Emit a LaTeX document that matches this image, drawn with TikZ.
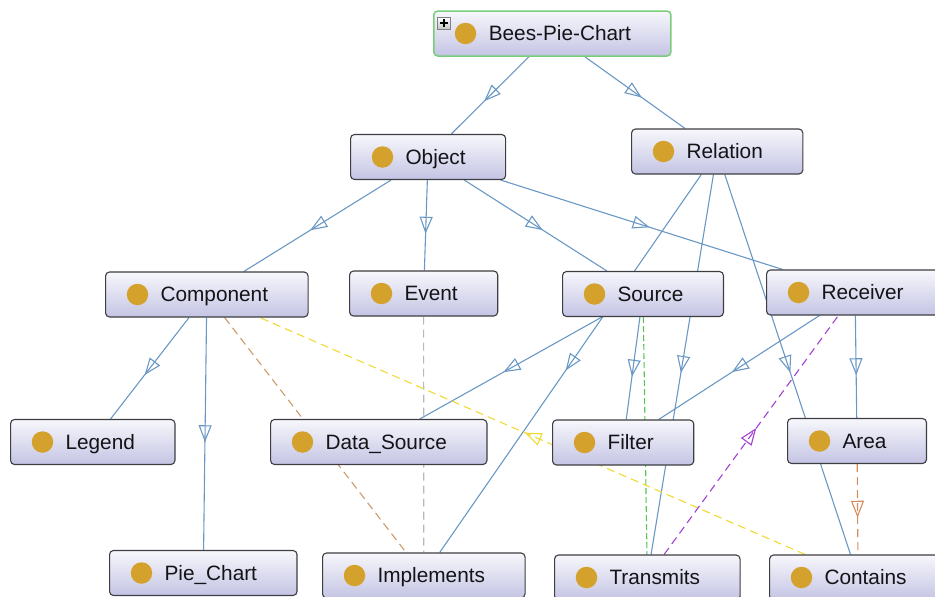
\documentclass[tikz,border=0pt]{standalone}
\usepackage{fontspec}
\setmainfont{Liberation Sans}
\usetikzlibrary{arrows.meta,decorations.markings}

\pgfdeclarelayer{edges}
\pgfsetlayers{edges,main}

\definecolor{linkblue}{RGB}{106,152,196}
\definecolor{boxline}{RGB}{62,62,66}
\definecolor{boxtop}{RGB}{247,247,252}
\definecolor{boxbot}{RGB}{196,196,228}
\definecolor{rootline}{RGB}{120,206,120}
\definecolor{gold}{RGB}{212,162,44}
\definecolor{ink}{RGB}{20,20,24}
\definecolor{tanlink}{RGB}{206,154,106}
\definecolor{greylink}{RGB}{184,184,184}
\definecolor{yellowlink}{RGB}{240,218,50}
\definecolor{greenlink}{RGB}{84,200,84}
\definecolor{purplelink}{RGB}{162,64,210}
\definecolor{orangelink}{RGB}{214,140,90}

% box text: 55pt left margin (room for the dot), 40pt right margin
\newcommand{\clslabel}[1]{\hspace*{55pt}#1\hspace*{40pt}}

\tikzset{
  cls/.style={draw=boxline, line width=1.1pt, rounded corners=4pt,
    top color=boxtop, bottom color=boxbot, anchor=west,
    minimum height=45pt, inner xsep=0pt, inner ysep=0pt,
    text height=14.9pt, text depth=0pt,
    font=\fontsize{20.8}{25}\selectfont, text=ink},
  rootcls/.style={cls, draw=rootline, line width=1.5pt},
  dot/.style={circle, fill=gold, minimum size=21.5pt, inner sep=0pt},
  plusbox/.style={rectangle, draw=gray, line width=0.6pt, top color=white,
    bottom color=gray!45, minimum width=13pt, minimum height=12pt, inner sep=0pt,
    path picture={
      \draw[line width=1.4pt, black]
        ([xshift=-3.6pt]path picture bounding box.center) -- ++(7.2pt,0)
        ([yshift=-3.6pt]path picture bounding box.center) -- ++(0,7.2pt);}},
  midtri/.style={postaction={decorate, decoration={markings,
    mark=at position 0.5 with {\pgftransformxshift{8.5pt}%
      \arrow[#1, solid, line width=1.1pt]{Triangle[open, length=17pt, width=13pt]}}}}},
  isa/.style={draw=linkblue, line width=1.1pt, midtri=linkblue},
  dep/.style={draw=#1, line width=1.1pt, dash pattern=on 8pt off 5pt, midtri=#1},
  fine dep/.style={draw=#1, line width=1.1pt, dash pattern=on 6pt off 3pt, midtri=#1},
}

\begin{document}
\begin{tikzpicture}[x=1pt, y=-1pt]
\useasboundingbox (0,0) rectangle (935,597);

% classes
\node[rootcls] (bees) at (433,33.5) {\clslabel{Bees-Pie-Chart}};
\node[cls] (obj) at (350,157) {\clslabel{Object}};
\node[cls] (rel) at (631,151.5) {\clslabel{Relation}};
\node[cls] (comp) at (105,294.5) {\clslabel{Component}};
\node[cls] (event) at (349,293.5) {\clslabel{Event}};
\node[cls] (source) at (562,294) {\clslabel{Source}};
\node[cls] (recv) at (766,292.5) {\clslabel{Receiver}};
\node[cls] (legend) at (10,442) {\clslabel{Legend}};
\node[cls] (ds) at (270,442) {\clslabel{Data\_Source}};
\node[cls] (filter) at (552,442.5) {\clslabel{Filter}};
\node[cls] (area) at (787,441) {\clslabel{Area}};
\node[cls] (pie) at (109,573) {\clslabel{Pie\_Chart}};
\node[cls] (impl) at (322,575.5) {\clslabel{Implements}};
\node[cls] (trans) at (554,577.5) {\clslabel{Transmits}};
\node[cls] (contains) at (769,577.5) {\clslabel{Contains}};

% class dots
\foreach \n in {bees,obj,rel,comp,event,source,recv,legend,ds,filter,area,pie,impl,trans,contains}
  \node[dot] (\n-dot) at ([xshift=32.5pt]\n.west) {};

% expand icon on the root
\node[plusbox] (plus) at (444,23) {};

\begin{pgfonlayer}{edges}
  % subclass links
  \draw[isa] (bees) -- (obj);
  \draw[isa] (bees) -- (rel);
  \draw[isa] (obj) -- (comp);
  \draw[isa] (obj) -- (event);
  \draw[isa] (obj) -- (source);
  \draw[isa] (obj) -- (recv);
  \draw[isa] (rel) -- (impl);
  \draw[isa] (rel) -- (trans);
  \draw[isa] (rel) -- (contains);
  \draw[isa] (comp) -- (legend);
  \draw[isa] (comp) -- (pie);
  \draw[isa] (source) -- (ds);
  \draw[isa] (source) -- (filter);
  \draw[isa] (recv) -- (filter);
  \draw[isa] (recv) -- (area);
  % property links
  \draw[dep=tanlink] (comp) -- (impl);
  \draw[dep=greylink] (event) -- (impl);
  \draw[fine dep=greenlink] (source) -- (trans);
  \draw[dep=yellowlink] (contains) -- (comp);
  \draw[dep=purplelink] (trans) -- (recv);
  \draw[dep=orangelink] (area) -- (contains);
\end{pgfonlayer}
\end{tikzpicture}
\end{document}
